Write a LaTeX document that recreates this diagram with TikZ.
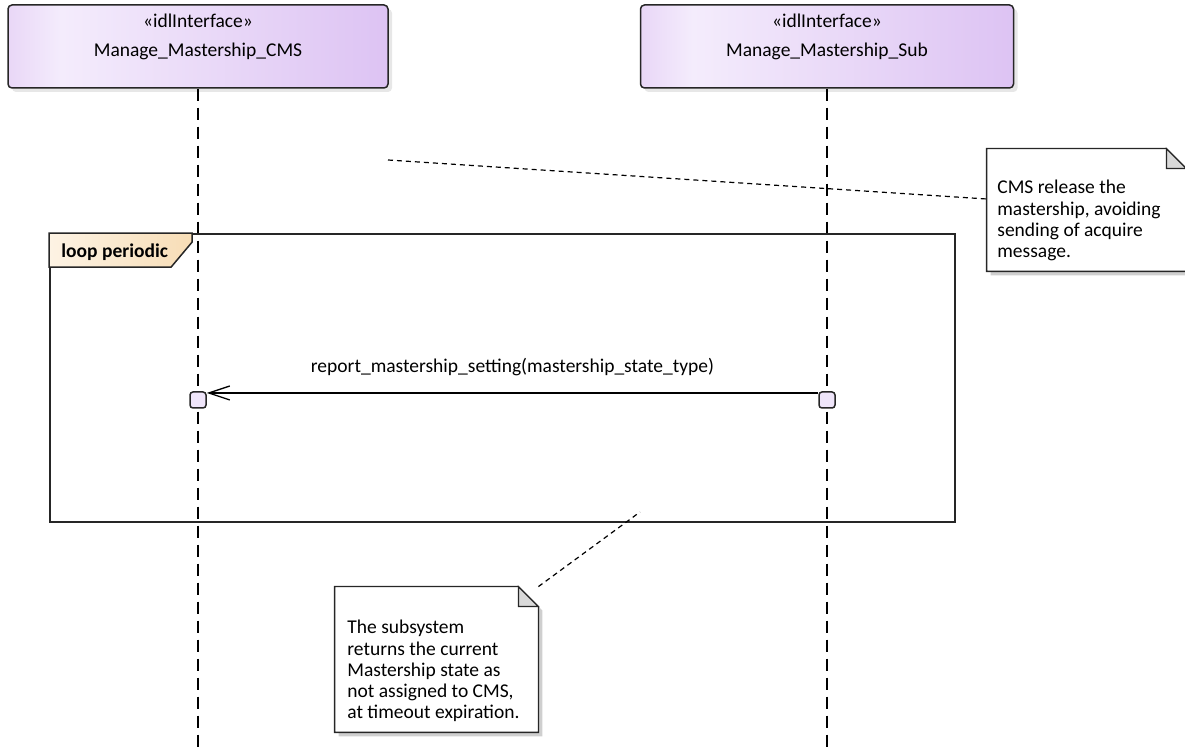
\documentclass[tikz,border=0pt]{standalone}
\usepackage{fontspec}
\setmainfont{Carlito}
\usetikzlibrary{arrows.meta, positioning, shadows}

\definecolor{lifeL}{HTML}{E9D7F7}
\definecolor{lifeM}{HTML}{F4ECFC}
\definecolor{lifeR}{HTML}{DDC3F3}
\definecolor{loopL}{HTML}{FDF3E4}
\definecolor{loopR}{HTML}{F7DDB6}
\definecolor{actfill}{HTML}{EFE5FA}
\definecolor{shadowgray}{HTML}{CFCFCF}
\definecolor{foldgray}{HTML}{D9D9D9}

\pgfdeclarehorizontalshading{lifeshade}{100bp}{color(0bp)=(lifeL); color(25bp)=(lifeL); color(32bp)=(lifeM); color(75bp)=(lifeR); color(100bp)=(lifeR)}

% dog-eared note outline around node #1, fold size #2
\newcommand{\dogear}[2]{%
  \fill[shadowgray] ([shift={(2pt,-2pt)}]#1.south west) -- ([shift={(2pt,-2pt)}]#1.north west)
    -- ([shift={(2pt-#2,-2pt)}]#1.north east) -- ([shift={(2pt,-2pt-#2)}]#1.north east)
    -- ([shift={(2pt,-2pt)}]#1.south east) -- cycle;
  \filldraw[fill=white, draw=black!85, line width=0.65pt] (#1.south west) -- (#1.north west)
    -- ([xshift=-#2]#1.north east) -- ([yshift=-#2]#1.north east) -- (#1.south east) -- cycle;
  \filldraw[fill=foldgray, draw=black!85, line width=0.65pt] ([xshift=-#2]#1.north east)
    -- ([xshift=-#2,yshift=-#2]#1.north east) -- ([yshift=-#2]#1.north east) -- cycle;
}

\begin{document}
\begin{tikzpicture}[
    x=0.5pt, y=-0.5pt,
    every node/.style={font=\fontsize{9.75}{11.7}\selectfont, inner sep=0pt},
    lifebox/.style={draw=black!85, line width=0.75pt, rounded corners=2pt, shading=lifeshade,
        minimum height=41.5pt, drop shadow={shadow xshift=2pt, shadow yshift=-2pt, fill=shadowgray}},
    headtext/.style={align=center, font=\fontsize{9.75}{14.5}\selectfont},
    lifeline/.style={line width=0.75pt, dash pattern=on 6pt off 3.5pt},
    actbox/.style={draw=black!85, line width=0.75pt, fill=actfill, rounded corners=1.5pt, minimum size=8pt},
    msg/.style={line width=0.65pt, -{Straight Barb[length=10.5pt, width=7pt]}},
    frame/.style={draw=black!85, line width=0.9pt, minimum width=452.5pt, minimum height=144pt},
    looptag/.style={draw=black!85, line width=0.75pt, left color=loopL, right color=loopR},
    looplabel/.style={font=\fontsize{9.75}{11.7}\selectfont\bfseries, anchor=west},
    notebox/.style={rectangle},
    notetext/.style={align=left, anchor=north west, font=\fontsize{9.75}{10.6}\selectfont},
    noteline/.style={line width=0.6pt, dash pattern=on 2.5pt off 2pt}
]
\useasboundingbox (0,0) rectangle (1185,748);

% Lifelines
\node[lifebox, minimum width=190pt] (cms) at (198,46.5) {};
\node[headtext, below=4.7pt of cms.north] (cmsText) {«idlInterface»\\Manage\_Mastership\_CMS};
\node[lifebox, minimum width=186.5pt] (sub) at (827,46.5) {};
\node[headtext, below=4.7pt of sub.north] (subText) {«idlInterface»\\Manage\_Mastership\_Sub};

\coordinate (bottom) at (0,748);
\draw[lifeline] (cms.south) -- (cms.south |- bottom);
\draw[lifeline] (sub.south) -- (sub.south |- bottom);

% Loop fragment
\node[frame] (loop) at (502.5,378) {};
\draw[looptag] (loop.north west) -- ++(143,0) -- ++(0,9) -- ++(-21,25) -- ++(-122,0) -- cycle;
\node[looplabel] (loopText) at (61,252) {loop periodic};

% Message
\node[actbox] (actCms) at (198,400) {};
\node[actbox] (actSub) at (827,400) {};
\draw[msg] ([yshift=3.5pt]actSub.west) -- node[above=8pt] (msgText) {report\_mastership\_setting(mastership\_state\_type)} ([yshift=3.5pt]actCms.east);

% Notes
\node[notebox, minimum width=99.5pt, minimum height=61pt] (relNote) at (1086.5,210) {};
\node[notebox, minimum width=101.5pt, minimum height=72.5pt] (subNote) at (436.5,659.5) {};

\coordinate (relEnd) at (388,160);
\coordinate (subEnd) at (640,512);
\draw[noteline] (relEnd) -- ([yshift=5.5pt]relNote.west);
\draw[noteline] (subNote.north east) -- (subEnd);

\dogear{relNote}{10pt}
\dogear{subNote}{10pt}
\node[notetext] (relText) at (997,180) {CMS release the\\mastership, avoiding\\sending of acquire\\message.};
\node[notetext] (subText) at (347,620) {The subsystem\\returns the current\\Mastership state as\\not assigned to CMS,\\at timeout expiration.};

\end{tikzpicture}
\end{document}
